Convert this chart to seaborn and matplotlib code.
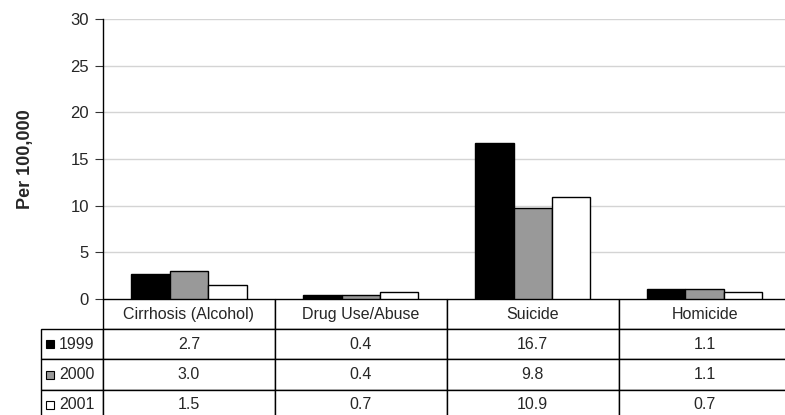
import numpy as np
import pandas as pd
import matplotlib
matplotlib.use("Agg")
import matplotlib.pyplot as plt
from matplotlib.patches import Rectangle
import seaborn as sns

# data
causes = ["Cirrhosis (Alcohol)", "Drug Use/Abuse", "Suicide", "Homicide"]
years = ["1999", "2000", "2001"]
rate_1999 = [2.7, 0.4, 16.7, 1.1]
rate_2000 = [3.0, 0.4, 9.8, 1.1]
rate_2001 = [1.5, 0.7, 10.9, 0.7]
y_ticks = [0, 5, 10, 15, 20, 25, 30]
colors = ["#000000", "#999999", "#ffffff"]

df = pd.DataFrame({
    "cause": causes * 3,
    "year": np.repeat(years, len(causes)),
    "rate": rate_1999 + rate_2000 + rate_2001,
})

sns.set_style("white")
plt.rcParams["font.family"] = ["Liberation Sans", "DejaVu Sans"]

fig = plt.figure(figsize=(7.85, 4.15), dpi=100)
ax_w, ax_h = 0.876, 0.6747
ax = fig.add_axes([0.1312, 0.2795, ax_w, ax_h])

sns.barplot(data=df, x="cause", y="rate", hue="year", order=causes,
            hue_order=years, palette=colors, width=0.67, gap=0,
            edgecolor="black", linewidth=1, ax=ax, legend=False)

ax.set_xlim(-0.5, 3.5)
ax.set_ylim(0, 30)
ax.set_yticks(y_ticks)
ax.tick_params(axis="y", labelsize=12, length=6, width=0.8, color="#333333",
               left=True, pad=4)
ax.set_xticks([])
ax.set_xlabel("")
ax.set_ylabel("Per 100,000", fontsize=13, fontweight="bold")
ax.yaxis.set_label_coords(-0.101, 0.50)

# gridlines
ax.set_axisbelow(True)
ax.yaxis.grid(True, color="#d4d4d4", linewidth=1)
for s in ["top", "right"]:
    ax.spines[s].set_visible(False)
ax.spines["left"].set_color("black")
ax.spines["left"].set_linewidth(1)
ax.spines["bottom"].set_visible(False)
ax.axhline(30, color="#888888", linewidth=1.2, zorder=0)

# data table under the chart (bbox covers the grid, row labels sit left of it)
lab_w = 62 / 688
tb_h = 0.432
cell_text = [[f"{v:.1f}" for v in r] for r in (rate_1999, rate_2000, rate_2001)]
tbl = ax.table(cellText=cell_text, colLabels=causes, cellLoc="center",
               colWidths=[0.25] * 4, bbox=[0, -tb_h, 1, tb_h])
cell_h = tbl[(1, 0)].get_height()
for i in range(len(years)):
    tbl.add_cell(i + 1, -1, width=lab_w, height=cell_h, text="")
tbl.auto_set_font_size(False)
tbl.set_fontsize(11.5)
for (r, c), cell in tbl.get_celld().items():
    cell.set_edgecolor("black")
    cell.set_linewidth(1)

# legend keys + year labels in the row label cells
row_h = tb_h / 4
sq_w = 8 / (ax_w * 785)
sq_h = 8 / (ax_h * 415)
for i, (yr, col) in enumerate(zip(years, colors)):
    yc = -row_h * (i + 1.5)
    ax.add_patch(Rectangle((-lab_w + 5 / 688, yc - sq_h / 2), sq_w, sq_h,
                           facecolor=col, edgecolor="black", linewidth=0.8,
                           transform=ax.transAxes, clip_on=False, zorder=5))
    ax.text(-lab_w + 18 / 688, yc, yr, transform=ax.transAxes, fontsize=11.5,
            ha="left", va="center", clip_on=False, zorder=6)

fig.savefig("out.png", dpi=100)
